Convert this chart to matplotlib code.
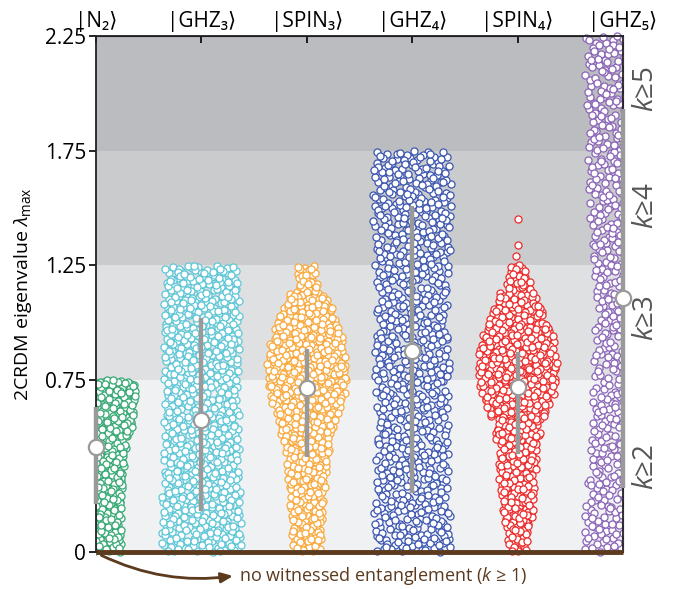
import numpy as np
import matplotlib
matplotlib.use("Agg")
import matplotlib.pyplot as plt
from matplotlib.patches import Rectangle

plt.rcParams["font.family"] = ["Open Sans", "DejaVu Sans"]
plt.rcParams["mathtext.fontset"] = "custom"
plt.rcParams["mathtext.rm"] = "Open Sans"
plt.rcParams["mathtext.it"] = "Open Sans:italic"

# ── Data ──────────────────────────────────────────────────────────────────────
STATES = ["|N₂⟩", "|GHZ₃⟩", "|SPIN₃⟩", "|GHZ₄⟩", "|SPIN₄⟩", "|GHZ₅⟩"]
COLORS = ["#35a873", "#5cc6d6", "#f8a83c", "#3b55b0", "#ec2b2b", "#8a63b8"]

BIN_W = 0.125   # histogram bins of lambda_max, starting at 0
N2_COUNTS    = [110, 110, 118, 127, 161, 174]
GHZ3_COUNTS  = [84, 84, 80, 80, 80, 76, 80, 80, 80, 76]
SPIN3_COUNTS = [46, 54, 61, 71, 91, 122, 129, 115, 81, 30]
GHZ4_COUNTS  = [60, 58, 56, 56, 54, 56, 58, 56, 54, 56, 58, 59, 61, 58]
SPIN4_COUNTS = [34, 54, 62, 65, 82, 126, 136, 122, 82, 38, 2]
GHZ5_COUNTS  = [53, 50, 46, 44, 42, 40, 38, 40, 36, 38, 42, 44, 45, 46, 48, 48, 50, 50]
SPIN4_OUTLIERS = [1.45]

WHISKER_LO = [0.21, 0.18, 0.414, 0.257, 0.427, 0.28]
WHISKER_HI = [0.63, 1.02, 0.885, 1.51, 0.87, 1.93]
CENTER_VAL = [0.458, 0.575, 0.715, 0.877, 0.72, 1.108]

BAND_EDGES  = [0, 0.75, 1.25, 1.75, 2.25]
BAND_COLORS = ["#f0f1f3", "#dfe0e2", "#cacbcd", "#bbbcbf"]
K_LABELS = ["$k$≥2", "$k$≥3", "$k$≥4", "$k$≥5"]
K_LABEL_Y = [0.37, 1.02, 1.51, 2.02]

Y_TICKS = [0, 0.75, 1.25, 1.75, 2.25]
Y_TICKLABELS = ["0", "0.75", "1.25", "1.75", "2.25"]

BROWN = "#5b3a1e"
HALF_W = 0.38


def halton(idx, base):
    out = np.zeros(len(idx))
    f = 1.0
    i = idx.copy()
    while np.any(i > 0):
        f /= base
        out += f * (i % base)
        i //= base
    return out


def sina_points(counts, center, offset):
    # quasi-uniform (Halton) layout of a binned distribution, width ~ density
    counts = np.asarray(counts, float)
    n = int(counts.sum())
    edges = np.arange(len(counts) + 1) * BIN_W
    cdf = np.concatenate([[0], np.cumsum(counts)]) / counts.sum()
    j = np.arange(n) + offset
    t1 = halton(j, 2)
    t2 = halton(j, 3)
    y = np.interp(t1, cdf, edges)
    mids = edges[:-1] + BIN_W / 2
    dens = np.interp(y, mids, counts) / counts.max()
    x = center + (2 * t2 - 1) * HALF_W * dens
    return x, y


fig = plt.figure(figsize=(6.86, 5.89), dpi=100)
ax = fig.add_axes([0.140, 0.063, 0.768, 0.876])

for lo, hi, c in zip(BAND_EDGES[:-1], BAND_EDGES[1:], BAND_COLORS):
    ax.axhspan(lo, hi, color=c, zorder=0, lw=0)

clip_rect = Rectangle((0, -0.3), 5, 2.9, transform=ax.transData)
groups = [N2_COUNTS, GHZ3_COUNTS, SPIN3_COUNTS, GHZ4_COUNTS, SPIN4_COUNTS, GHZ5_COUNTS]
for i, (counts, col) in enumerate(zip(groups, COLORS)):
    x, y = sina_points(counts, i, offset=1 + 577 * i)
    if i == 4:
        x = np.append(x, [4.0] * len(SPIN4_OUTLIERS))
        y = np.append(y, SPIN4_OUTLIERS)
    sc = ax.scatter(x, y, s=26, facecolor="white", edgecolor=col, linewidth=0.9, zorder=2)
    sc.set_clip_path(clip_rect)

for i in range(len(STATES)):
    ax.plot([i, i], [WHISKER_LO[i], WHISKER_HI[i]], color="#9a9a9a", lw=3.2,
            solid_capstyle="butt", zorder=4, clip_on=False)
    ax.plot(i, CENTER_VAL[i], "o", ms=11, mfc="white", mec="#9a9a9a", mew=1.6,
            zorder=5, clip_on=False)

ax.set_xlim(0, 5)
ax.set_ylim(0, 2.25)
ax.set_xticks([])
ax.set_yticks(Y_TICKS)
ax.set_yticklabels(Y_TICKLABELS, fontsize=15)
ax.tick_params(axis="y", direction="out", length=5, width=1.2, pad=2)
ax.set_ylabel(r"2CRDM eigenvalue $\lambda_{\mathrm{max}}$", fontsize=14, labelpad=8)
for sp in ax.spines.values():
    sp.set_linewidth(1.3)
    sp.set_color("#222222")

top = ax.secondary_xaxis("top")
top.set_xticks(range(len(STATES)))
top.set_xticklabels(STATES, fontsize=15)
top.tick_params(direction="in", length=5, width=1.2, pad=3)

right = ax.secondary_yaxis("right")
right.set_yticks(Y_TICKS)
right.set_yticklabels([])
right.tick_params(direction="in", length=4, width=1.2)

for lab, yv in zip(K_LABELS, K_LABEL_Y):
    ax.text(5.22, yv, lab, rotation=90, ha="center", va="center", fontsize=20, color="#555555")

ax.plot([0, 5], [0, 0], color=BROWN, lw=3.5, solid_capstyle="butt", zorder=6, clip_on=False)
ax.annotate("", xy=(1.30, -0.105), xytext=(0.05, -0.015),
            arrowprops=dict(arrowstyle="-|>,head_length=0.7,head_width=0.3", color=BROWN, lw=2,
                            connectionstyle="arc3,rad=0.15", shrinkA=0, shrinkB=0),
            annotation_clip=False)
ax.text(1.36, -0.107, r"no witnessed entanglement ($k$ ≥ 1)", ha="left", va="center",
        fontsize=13, color=BROWN)

fig.savefig("out.png", dpi=100)
